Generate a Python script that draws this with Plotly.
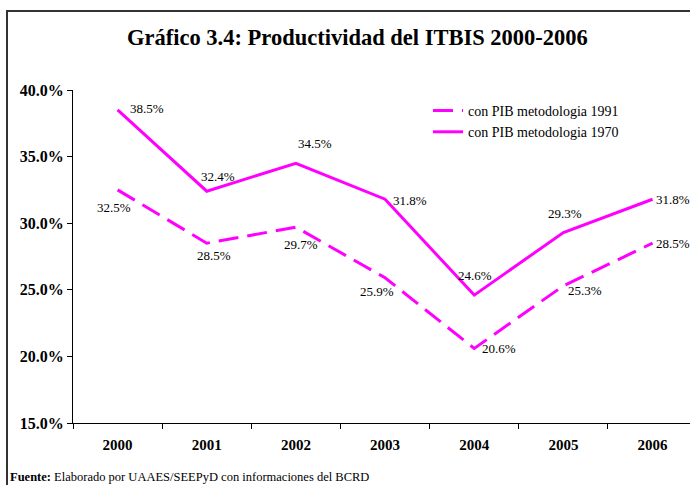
import plotly.graph_objects as go

years = ["2000", "2001", "2002", "2003", "2004", "2005", "2006"]
pib_1991 = [32.5, 28.5, 29.7, 25.9, 20.6, 25.3, 28.5]
pib_1970 = [38.5, 32.4, 34.5, 31.8, 24.6, 29.3, 31.8]
series_names = ["con PIB metodologia 1991", "con PIB metodologia 1970"]
y_ticks = [15, 20, 25, 30, 35, 40]
title_text = "<b>Gráfico 3.4: Productividad del ITBIS 2000-2006</b>"
source_text = "<b>Fuente:</b> Elaborado por UAAES/SEEPyD con informaciones del BCRD"

# label placement (anchor, xshift px, yshift px)
pos_1991 = [("center", -4, -18), ("center", 7, -12), ("center", 5, -17), ("center", -8, -14),
            ("left", 6, 0), ("left", 3, -5), ("left", 1, 0)]
pos_1970 = [("left", 10, 1), ("center", 11, 15), ("center", 19, 20), ("left", 6, -1),
            ("center", 1, 20), ("center", 2, 19), ("left", 1, 0)]

FONT = "Liberation Serif"
MAG = "#FF00FF"
L, T, W, H = 73, 90, 617, 333  # plot area in px

fig = go.Figure()
fig.add_trace(go.Scatter(x=years, y=pib_1991, mode="lines", name=series_names[0],
                         line=dict(color=MAG, width=3, dash="20px,9px")))
fig.add_trace(go.Scatter(x=years, y=pib_1970, mode="lines", name=series_names[1],
                         line=dict(color=MAG, width=3)))

annotations = []
for vals, poss in ((pib_1991, pos_1991), (pib_1970, pos_1970)):
    for i, (v, (anc, xs, ys)) in enumerate(zip(vals, poss)):
        annotations.append(dict(x=i, y=v, xref="x", yref="y", text=f"{v:.1f}%",
                                showarrow=False, xanchor=anc, yanchor="middle",
                                xshift=xs, yshift=ys,
                                font=dict(family=FONT, size=13, color="black")))

annotations.append(dict(x=(357 - L) / W, y=(T + H - 38) / H, xref="paper", yref="paper",
                        text=title_text, showarrow=False, xanchor="center", yanchor="middle",
                        font=dict(family=FONT, size=22.5, color="black")))
annotations.append(dict(x=(8 - L) / W, y=(T + H - 477) / H, xref="paper", yref="paper",
                        text=source_text, showarrow=False, xanchor="left", yanchor="middle",
                        font=dict(family=FONT, size=12.5, color="black")))

fig.update_layout(
    width=690, height=485,
    margin=dict(l=L, r=0, t=T, b=485 - T - H),
    paper_bgcolor="white", plot_bgcolor="white",
    font=dict(family=FONT, color="black"),
    showlegend=True,
    legend=dict(x=(428 - L) / W, y=0.985, xanchor="left", yanchor="top",
                bgcolor="rgba(0,0,0,0)", font=dict(family=FONT, size=14),
                tracegroupgap=0, itemwidth=30),
    annotations=annotations,
    xaxis=dict(type="category", range=[-0.5, 6.42], showgrid=False, showline=True,
               linecolor="black", linewidth=1, ticks="outside", ticklen=5,
               tickcolor="black", tickson="boundaries", ticklabelstandoff=8,
               tickfont=dict(family=FONT, size=15, color="black"),
               tickprefix="<b>", ticksuffix="</b>", zeroline=False),
    yaxis=dict(range=[15, 40], showgrid=False, showline=True, linecolor="black",
               linewidth=1, ticks="outside", ticklen=5, tickcolor="black",
               tickvals=y_ticks, ticktext=[f"<b>{t:.1f}%</b>" for t in y_ticks],
               tickfont=dict(family=FONT, size=16, color="black"), zeroline=False),
    shapes=[dict(type="rect", xref="paper", yref="paper",
                 x0=(7 - L) / W, x1=1.2, y0=-0.3, y1=(T + H - 11) / H,
                 line=dict(color="#333333", width=2), fillcolor="rgba(0,0,0,0)",
                 layer="below")],
)

fig.write_html("out.html", config={"displayModeBar": False},
               post_script="document.body.style.margin='0px';")
